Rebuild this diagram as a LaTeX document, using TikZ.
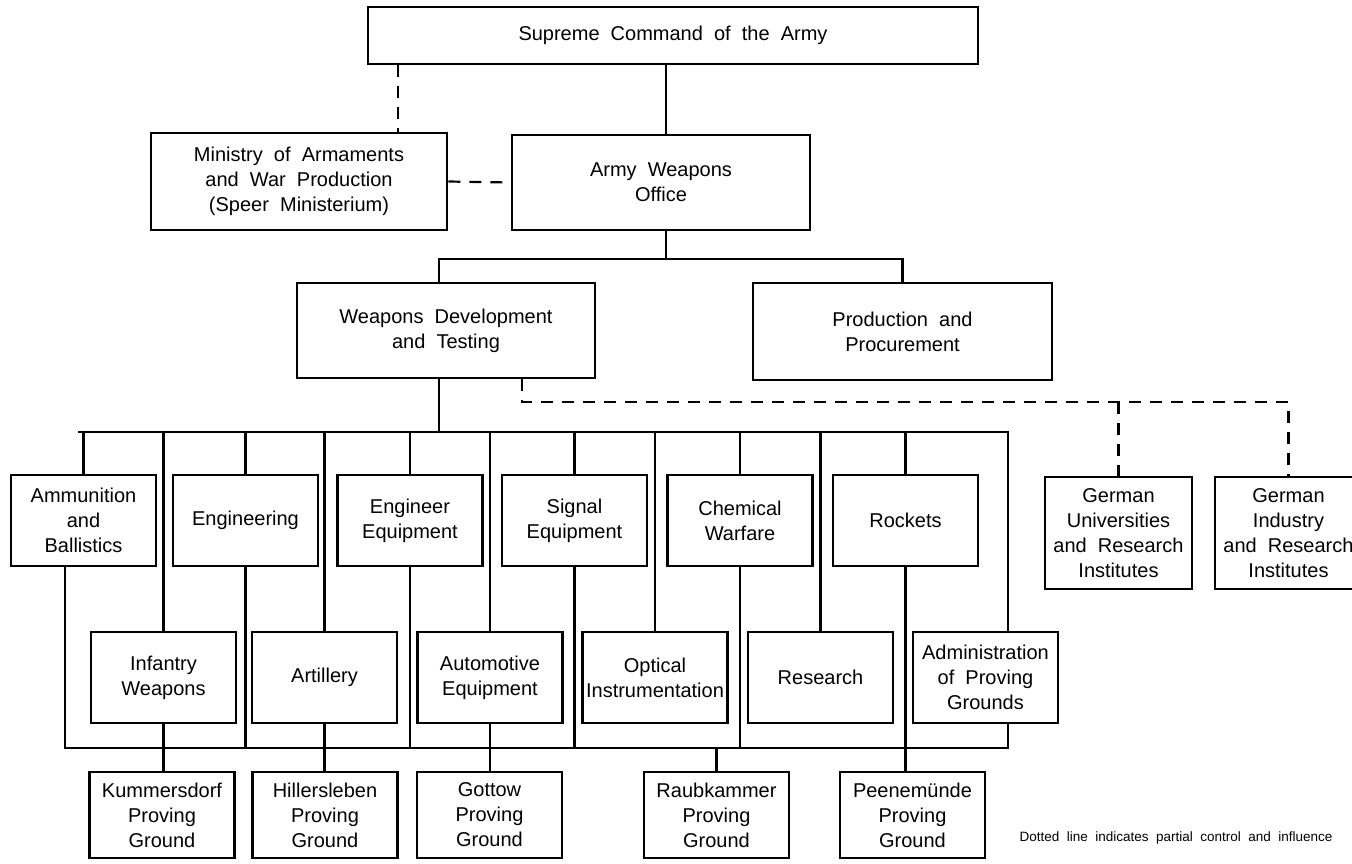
\documentclass[tikz,border=0pt]{standalone}
\usepackage{fontspec}
\setmainfont{Liberation Sans}[WordSpace=2.0]

\begin{document}
\begin{tikzpicture}[x=1pt,y=-1pt,
    box/.style={draw,line width=2.6pt,align=center,inner sep=0pt,
      font=\fontsize{20}{25}\selectfont},
    unit/.style={box,minimum width=145pt,minimum height=91pt},
    ground/.style={box,minimum width=145pt,minimum height=86pt},
    wire/.style={line width=2.2pt},
    partial/.style={line width=2.2pt,dash pattern=on 12pt off 9pt}]
    \useasboundingbox (0,0) rectangle (1352,863);

    % command level
    \node[box,minimum width=610pt,minimum height=57pt] (sup) at (673,35.5) {Supreme Command of the Army};
    \node[box,minimum width=296pt,minimum height=97pt] (min) at (299,181.5) {Ministry of Armaments\\and War Production\\(Speer Ministerium)};
    \node[box,minimum width=298pt,minimum height=95pt] (awo) at (661,182.5) {Army Weapons\\Office};
    \node[box,minimum width=298pt,minimum height=95pt] (wdt) at (446,330.5) {Weapons Development\\and Testing};
    \node[box,minimum width=299pt,minimum height=97pt] (prp) at (902.5,331.5) {Production and\\Procurement};
    \node[box,minimum width=147pt,minimum height=112pt] (uni) at (1118.5,533) {German\\Universities\\and Research\\Institutes};
    \node[box,minimum width=147pt,minimum height=112pt] (ind) at (1288.5,533) {German\\Industry\\and Research\\Institutes};

    % branches, upper row
    \node[unit] (amm) at (83.5,520.5) {Ammunition\\and\\Ballistics};
    \node[unit] (eng) at (245.5,520.5) {Engineering};
    \node[unit] (eeq) at (410,520.5) {Engineer\\Equipment};
    \node[unit] (sig) at (574.5,520.5) {Signal\\Equipment};
    \node[unit] (chw) at (740,520.5) {Chemical\\Warfare};
    \node[unit] (roc) at (905.5,520.5) {Rockets};

    % branches, lower row
    \node[unit] (inf) at (163.5,677.5) {Infantry\\Weapons};
    \node[unit] (art) at (324.5,677.5) {Artillery};
    \node[unit] (aut) at (490,677.5) {Automotive\\Equipment};
    \node[unit] (opt) at (655,677.5) {Optical\\Instrumentation};
    \node[unit] (res) at (820.5,677.5) {Research};
    \node[unit] (adm) at (985.5,677.5) {Administration\\of Proving\\Grounds};

    % proving grounds
    \node[ground] (kum) at (162,815) {Kummersdorf\\Proving\\Ground};
    \node[ground] (hil) at (325,815) {Hillersleben\\Proving\\Ground};
    \node[ground] (got) at (489.5,815) {Gottow\\Proving\\Ground};
    \node[ground] (rau) at (716.5,815) {Raubkammer\\Proving\\Ground};
    \node[ground] (pee) at (912.5,815) {Peenemünde\\Proving\\Ground};

    \node[anchor=west,font=\fontsize{13.5}{15}\selectfont] (note) at (1016,838) {Dotted line indicates partial control and influence};

    \coordinate (awoX) at (666,0);
    \coordinate (barL) at (439,259);
    \coordinate (barR) at (902.5,259);
    \coordinate (busL) at (78,432);
    \coordinate (busR) at (1008,432);
    \coordinate (lowL) at (65,748);
    \coordinate (lowR) at (1008,748);
    \coordinate (minTop) at (398,133);
    \coordinate (dA) at (522,402);

    % solid lines
    \draw[wire] (awoX |- sup.south) -- (awoX |- awo.north);
    \draw[wire] (awoX |- awo.south) -- (awoX |- barL);
    \draw[wire] (barL |- wdt.north) -- (barL) -- (barR) -- (prp.north);
    \draw[wire] (barL |- wdt.south) -- (barL |- busL);
    \draw[wire] (busL) -- (busR) -- (busR |- adm.north);
    \draw[wire] (lowL |- amm.south) -- (lowL) -- (lowR) -- (lowR |- adm.south);
    \foreach \n in {amm,eng,eeq,sig,chw,roc,inf,art,aut,opt,res}
        \draw[wire] (\n.north) -- (\n.north |- busL);
    \foreach \n in {eng,eeq,sig,chw}
        \draw[wire] (\n.south) -- (\n.south |- lowL);
    \draw[wire] (inf.south) -- (inf.south |- kum.north);
    \draw[wire] (art.south) -- (art.south |- hil.north);
    \draw[wire] (aut.south) -- (aut.south |- got.north);
    \draw[wire] (roc.south) -- (roc.south |- pee.north);
    \draw[wire] (rau.north) -- (rau.north |- lowL);

    % dotted lines
    \draw[partial] (minTop |- sup.south) -- (minTop);
    \draw[partial] (min.east) -- (awo.west);
    \draw[partial] (dA |- wdt.south) -- (dA) -- (dA -| ind.north) -- (ind.north);
    \draw[partial] (uni.north |- dA) -- (uni.north);
\end{tikzpicture}
\end{document}
